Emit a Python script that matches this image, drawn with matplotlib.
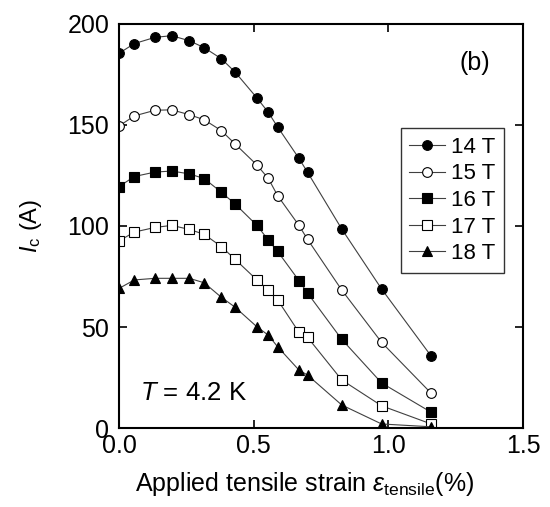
import matplotlib.pyplot as plt

plt.rcParams['font.family'] = ['Liberation Sans', 'DejaVu Sans']
plt.rcParams['mathtext.fontset'] = 'custom'
plt.rcParams['mathtext.rm'] = 'Liberation Sans'
plt.rcParams['mathtext.it'] = 'Liberation Sans:italic'

# strain values (%)
strain = [0.0, 0.057, 0.134, 0.196, 0.261, 0.316, 0.380, 0.431,
          0.512, 0.554, 0.589, 0.668, 0.700, 0.827, 0.975, 1.159]

# critical current (A) for each field
ic_14 = [185.5, 190.3, 193.4, 194.2, 191.7, 188.3, 182.8, 176.2,
         163.4, 156.3, 149.0, 133.5, 126.6, 98.5, 68.8, 35.6]
ic_15 = [149.5, 154.5, 157.3, 157.5, 155.1, 152.6, 147.2, 140.6,
         130.2, 123.6, 115.0, 100.3, 93.4, 68.3, 42.4, 17.2]
ic_16 = [119.5, 124.5, 126.7, 127.2, 125.8, 123.5, 116.7, 110.9,
         100.3, 93.1, 87.4, 73.0, 66.8, 43.9, 22.3, 7.8]
ic_17 = [92.6, 97.0, 99.3, 100.3, 98.3, 95.9, 89.8, 83.5,
         73.3, 68.3, 63.4, 47.4, 44.9, 23.8, 11.0, 2.0]
ic_18 = [69.1, 73.3, 74.1, 74.1, 74.1, 71.9, 64.7, 59.8,
         50.1, 46.0, 40.2, 28.7, 26.2, 11.4, 2.0, 0.6]

labels = ['14 T', '15 T', '16 T', '17 T', '18 T']
series = [ic_14, ic_15, ic_16, ic_17, ic_18]
markers = ['o', 'o', 's', 's', '^']
fills = ['black', 'white', 'black', 'white', 'black']

fig = plt.figure(figsize=(5.5, 5.07), dpi=100)
ax = fig.add_axes([0.2164, 0.1558, 0.7345, 0.7969])

for ic, lab, m, fc in zip(series, labels, markers, fills):
    ax.plot(strain, ic, color='#404040', linewidth=0.8, marker=m,
            markersize=7 if m != 's' else 6.5, markerfacecolor=fc,
            markeredgecolor='black', markeredgewidth=0.8, label=lab)

ax.set_xlim(0, 1.5)
ax.set_ylim(0, 200)
ax.set_xticks([0.0, 0.5, 1.0, 1.5])
ax.set_yticks([0, 50, 100, 150, 200])
ax.set_xticklabels(['0.0', '0.5', '1.0', '1.5'])
ax.tick_params(direction='in', length=6, width=1.2, labelsize=18,
               top=True, right=True)
ax.tick_params(axis='x', pad=4)
ax.tick_params(axis='y', pad=7)
for s in ax.spines.values():
    s.set_linewidth(1.5)

ax.set_xlabel(r'Applied tensile strain $\mathit{\varepsilon}_{\mathrm{tensile}}$(%)',
              fontsize=18)
ax.xaxis.set_label_coords(0.46, -0.105)
ax.set_ylabel(r'$\mathit{I}_{\mathrm{c}}$ (A)', fontsize=17)
ax.yaxis.set_label_coords(-0.185, 0.5)

ax.text(1.32, 180.7, '(b)', fontsize=18, ha='center', va='center')
ax.text(0.078, 13.9, r'$\mathit{T}$ = 4.2 K', fontsize=18.5, ha='left', va='baseline')

leg = ax.legend(loc='upper left', bbox_to_anchor=(0.697, 0.7426), fontsize=16,
                frameon=True, fancybox=False, edgecolor='black',
                handlelength=1.6, labelspacing=0.25, borderpad=0.4,
                handletextpad=0.25, borderaxespad=0)
leg.get_frame().set_linewidth(1.0)

plt.savefig('out.png', dpi=100)
